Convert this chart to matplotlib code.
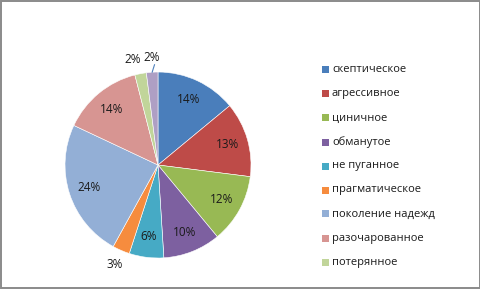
import matplotlib
matplotlib.use("Agg")
import matplotlib.pyplot as plt
import numpy as np
from matplotlib.patches import Rectangle

categories = ["скептическое", "агрессивное", "циничное", "обманутое", "не пуганное",
              "прагматическое", "поколение надежд", "разочарованное", "потерянное", "другое"]
values = [14, 13, 12, 10, 6, 3, 24, 14, 2, 2]
colors = ["#4A7EBB", "#BE4B48", "#98B954", "#7D60A0", "#46AAC5",
          "#F68C3E", "#93AFD6", "#D79592", "#C1D59A", "#AE9FC4"]

plt.rcParams['font.family'] = ['Open Sans', 'DejaVu Sans']

fig = plt.figure(figsize=(4.81, 2.89), dpi=100)
fig.patches.append(Rectangle((0.002, 0.003), 0.996, 0.994, transform=fig.transFigure,
                             fill=False, edgecolor="#8a8a8a", linewidth=1.4))

ax = fig.add_axes([0.3285 - 0.1934, 0.429 - 0.3218, 0.3868, 0.6436])
wedges, _ = ax.pie(values, colors=colors, startangle=90, counterclock=False,
                   wedgeprops=dict(edgecolor="white", linewidth=0.4))
ax.set_xlim(-1, 1)
ax.set_ylim(-1, 1)
ax.set_aspect("equal")
ax.axis("off")

total = sum(values)
for i, (w, v) in enumerate(zip(wedges, values)):
    ang = np.deg2rad((w.theta1 + w.theta2) / 2)
    pct = f"{round(100 * v / total)}%"
    if v >= 5:
        r = 0.78
    else:
        r = 1.16
    x, y = r * np.cos(ang), r * np.sin(ang)
    if i == 8:
        x -= 0.06
    ax.text(x, y, pct, ha="center", va="center", fontsize=8.5, color="#1a1a1a",
            clip_on=False)
    if i == 9:
        ax.plot([np.cos(ang) * 1.0, np.cos(ang) * 1.08 + 0.03],
                [np.sin(ang) * 1.0, np.sin(ang) * 1.08],
                color="#4F81BD", linewidth=0.8, clip_on=False)

# legend (first nine entries are visible in the reference)
y0 = 1 - 70 / 289
dy = 24.0 / 289
for i in range(9):
    yy = y0 - i * dy
    fig.patches.append(Rectangle((322 / 481, yy - 3.5 / 289), 7 / 481, 7 / 289,
                                 transform=fig.transFigure, facecolor=colors[i],
                                 edgecolor="none"))
    fig.text(332 / 481, yy, categories[i], ha="left", va="center", fontsize=8,
             color="#1a1a1a")

fig.savefig("out.png", dpi=100)
